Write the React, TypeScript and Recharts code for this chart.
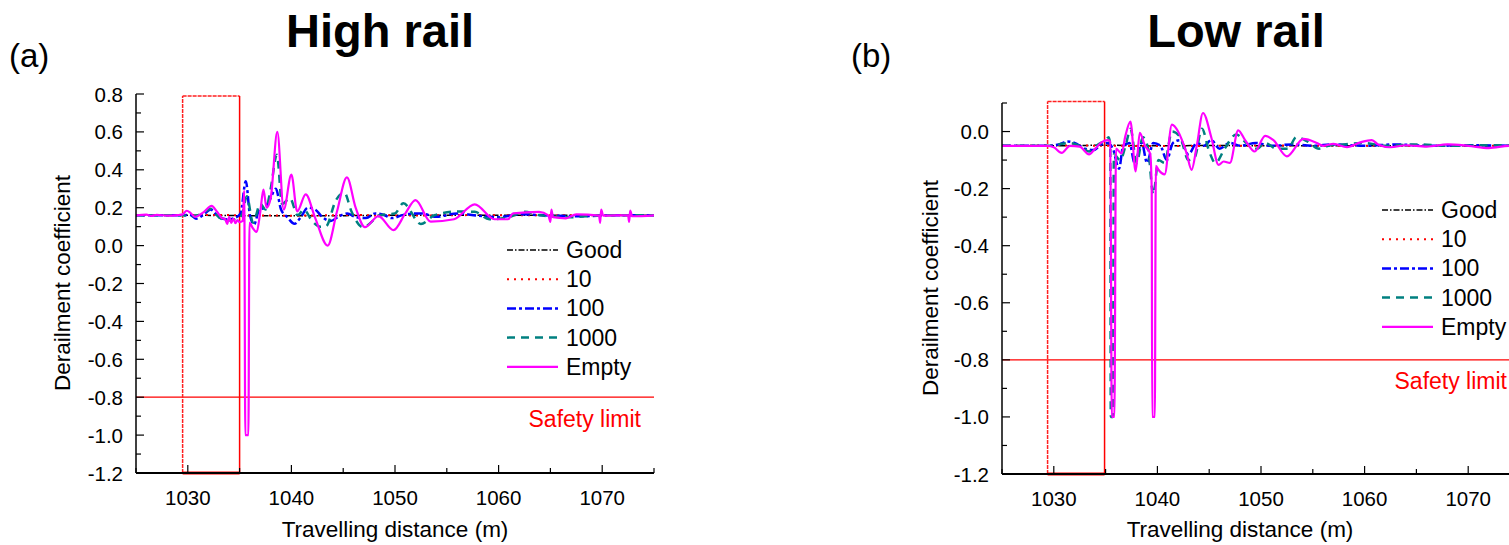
import React from 'react';
import { LineChart, Line, XAxis, YAxis, ReferenceLine, Legend } from 'recharts';

const FONT = '"Liberation Sans", Arial, Helvetica, sans-serif';

// ---------- tick values ----------
const xTicks = [1025, 1030, 1035, 1040, 1045, 1050, 1055, 1060, 1065, 1070, 1075];
const highYTicks = [-1.2, -1.1, -1.0, -0.9, -0.8, -0.7, -0.6, -0.5, -0.4, -0.3, -0.2, -0.1, 0.0, 0.1, 0.2, 0.3, 0.4, 0.5, 0.6, 0.7, 0.8];
const lowYTicks = [-1.2, -1.1, -1.0, -0.9, -0.8, -0.7, -0.6, -0.5, -0.4, -0.3, -0.2, -0.1, 0.0, 0.1];
const seriesNames = ['Good', '10', '100', '1000', 'Empty'];
const safetyLimit = -0.8;

// ---------- High rail series [distance (m), derailment coefficient] ----------
const hrGood: [number, number][] = [
  [1025, 0.16], [1030, 0.16], [1035, 0.158], [1040, 0.157], [1045, 0.158], [1050, 0.16],
  [1055, 0.16], [1060, 0.16], [1065, 0.16], [1070, 0.16], [1075, 0.16],
];
const hr10: [number, number][] = [
  [1025, 0.16], [1031, 0.162], [1036, 0.16], [1040, 0.158], [1046, 0.161], [1052, 0.159],
  [1058, 0.161], [1064, 0.16], [1070, 0.16], [1075, 0.16],
];
const hr100: [number, number][] = [
  [1025, 0.16], [1029.5, 0.16], [1030.2, 0.163], [1030.8, 0.142], [1031.5, 0.163], [1032.2, 0.19],
  [1033.0, 0.15], [1033.8, 0.138], [1034.6, 0.148], [1035.1, 0.17], [1035.6, 0.34], [1036.0, 0.16],
  [1036.4, 0.112], [1036.9, 0.19], [1037.4, 0.2], [1037.9, 0.24], [1038.5, 0.3], [1039.0, 0.19],
  [1039.6, 0.15], [1040.3, 0.115], [1040.9, 0.15], [1041.6, 0.2], [1042.3, 0.19], [1043.0, 0.15],
  [1043.8, 0.13], [1044.6, 0.155], [1045.4, 0.17], [1046.2, 0.15], [1047.2, 0.145], [1048.1, 0.17],
  [1049.0, 0.16], [1049.7, 0.145], [1051, 0.165], [1052.5, 0.17], [1054, 0.152], [1056, 0.17],
  [1058, 0.158], [1060, 0.15], [1062, 0.165], [1065, 0.158], [1068, 0.155], [1071, 0.16], [1075, 0.16],
];
const hr1000: [number, number][] = [
  [1025, 0.16], [1029.5, 0.16], [1030.5, 0.155], [1031.5, 0.172], [1032.2, 0.195], [1033.0, 0.15],
  [1033.8, 0.132], [1034.6, 0.14], [1035.2, 0.16], [1035.7, 0.26], [1036.3, 0.12], [1037.0, 0.22],
  [1037.5, 0.19], [1038.0, 0.3], [1038.6, 0.48], [1039.1, 0.22], [1039.86, 0.25], [1040.6, 0.16],
  [1041.2, 0.19], [1042.0, 0.13], [1042.8, 0.1], [1043.3, 0.1], [1044.3, 0.24], [1045.1, 0.28],
  [1045.8, 0.18], [1046.9, 0.097], [1048.6, 0.16], [1050.0, 0.17], [1050.8, 0.223], [1052.5, 0.114],
  [1053.8, 0.16], [1056.1, 0.18], [1057.7, 0.178], [1059.1, 0.139], [1061, 0.15], [1062.5, 0.178],
  [1064, 0.16], [1067, 0.15], [1070, 0.16], [1075, 0.16],
];
const hrEmpty: [number, number][] = [
  [1025, 0.16], [1026, 0.163], [1026.5, 0.157], [1027, 0.162], [1028, 0.158], [1029, 0.161], [1029.5, 0.165],
  [1029.9, 0.184], [1030.3, 0.17], [1030.7, 0.152], [1031.5, 0.175], [1032.3, 0.21], [1032.8, 0.18],
  [1033.3, 0.145], [1033.6, 0.14], [1033.8, 0.115], [1034.0, 0.15], [1034.2, 0.12], [1034.4, 0.142],
  [1034.6, 0.118], [1034.8, 0.135], [1035.0, 0.124], [1035.3, 0.13], [1035.45, 0.29], [1035.55, -1.0],
  [1035.85, -1.0], [1035.95, 0.12], [1036.3, 0.09], [1036.65, 0.072], [1037.0, 0.18], [1037.3, 0.295],
  [1037.6, 0.2], [1038.0, 0.25], [1038.64, 0.6], [1039.26, 0.19], [1040.0, 0.375], [1040.56, 0.18],
  [1041.38, 0.27], [1042.3, 0.145], [1043.5, 0.0], [1044.4, 0.18], [1045.36, 0.36], [1046.2, 0.2],
  [1047.1, 0.097], [1048.4, 0.156], [1049.86, 0.082], [1051.0, 0.17], [1051.98, 0.24], [1053.45, 0.126],
  [1055.7, 0.139], [1057.7, 0.218], [1059.6, 0.139], [1060.9, 0.139], [1061.4, 0.17], [1063.9, 0.178],
  [1064.8, 0.16], [1065.0, 0.125], [1065.1, 0.19], [1065.25, 0.15], [1066.5, 0.144], [1067.5, 0.165],
  [1069.7, 0.158], [1069.8, 0.12], [1069.9, 0.19], [1070.1, 0.158], [1072.5, 0.16], [1072.6, 0.125],
  [1072.7, 0.185], [1072.9, 0.155], [1075, 0.16],
];

// ---------- Low rail series ----------
const lrGood: [number, number][] = [
  [1025, -0.05], [1030, -0.05], [1035, -0.048], [1040, -0.05], [1045, -0.049], [1050, -0.05],
  [1055, -0.05], [1060, -0.05], [1065, -0.05], [1070, -0.05], [1075, -0.05],
];
const lr10: [number, number][] = [
  [1025, -0.05], [1031, -0.049], [1036, -0.05], [1041, -0.051], [1046, -0.05], [1052, -0.049],
  [1058, -0.05], [1064, -0.05], [1070, -0.05], [1075, -0.05],
];
const lr100: [number, number][] = [
  [1025, -0.05], [1029.5, -0.05], [1030.5, -0.045], [1031.3, -0.035], [1032.0, -0.04], [1033.0, -0.06],
  [1033.8, -0.065], [1034.6, -0.045], [1035.2, -0.04], [1035.7, -0.06], [1036.3, -0.13], [1036.7, -0.05],
  [1037.3, -0.04], [1037.8, -0.11], [1038.5, -0.04], [1039.0, -0.11], [1039.6, -0.04], [1040.3, -0.05],
  [1040.9, -0.1], [1041.5, -0.04], [1042.2, -0.03], [1043.0, -0.08], [1043.8, -0.04], [1044.5, -0.05],
  [1045.2, -0.03], [1046.0, -0.06], [1047.0, -0.04], [1048.0, -0.05], [1049.5, -0.04], [1051, -0.05],
  [1053, -0.045], [1055, -0.05], [1057, -0.045], [1060, -0.05], [1063, -0.045], [1066, -0.05],
  [1070, -0.048], [1075, -0.05],
];
const lr1000: [number, number][] = [
  [1025, -0.05], [1029.5, -0.05], [1030.5, -0.045], [1031.5, -0.04], [1032.5, -0.05], [1033.4, -0.07],
  [1034.3, -0.045], [1035.0, -0.03], [1035.3, -0.02], [1035.45, -0.05], [1035.5, -1.0], [1035.7, -1.0],
  [1035.8, -0.08], [1036.4, -0.1], [1037.0, -0.04], [1037.4, 0.01], [1038.0, -0.11], [1038.6, -0.02],
  [1039.1, -0.06], [1039.6, -0.22], [1040.1, -0.1], [1040.7, -0.11], [1041.4, 0.0], [1042.2, -0.02],
  [1043.0, -0.1], [1043.6, -0.09], [1044.3, 0.01], [1045.0, -0.07], [1045.6, -0.11], [1046.5, -0.06],
  [1047.6, -0.01], [1048.6, -0.04], [1049.6, -0.06], [1050.4, -0.04], [1051.5, -0.06], [1052.6, -0.06],
  [1053.4, -0.02], [1054.5, -0.035], [1055.6, -0.06], [1056.5, -0.05], [1058, -0.045], [1060, -0.04],
  [1062, -0.05], [1065, -0.045], [1068, -0.05], [1072, -0.048], [1075, -0.05],
];
const lrEmpty: [number, number][] = [
  [1025, -0.05], [1029.4, -0.05], [1030.0, -0.055], [1030.76, -0.075], [1031.56, -0.05], [1032.5, -0.053],
  [1033.4, -0.08], [1034.0, -0.06], [1034.6, -0.038], [1035.2, -0.03], [1035.45, -0.035], [1035.6, -1.0],
  [1035.85, -1.0], [1036.0, -0.06], [1036.55, -0.077], [1036.9, -0.017], [1037.4, 0.035], [1037.9, -0.14],
  [1038.3, -0.005], [1038.8, -0.05], [1039.3, -0.077], [1039.45, -0.2], [1039.5, -1.0], [1039.75, -1.0],
  [1039.85, -0.12], [1040.1, -0.134], [1040.7, -0.15], [1041.4, 0.024], [1042.0, 0.0], [1042.8, -0.074],
  [1043.3, -0.134], [1043.8, -0.05], [1044.4, 0.065], [1045.2, -0.02], [1045.9, -0.117], [1046.4, -0.105],
  [1047.0, -0.11], [1047.8, 0.004], [1048.45, -0.029], [1049.4, -0.07], [1050.4, -0.015], [1051.2, -0.03],
  [1052.5, -0.087], [1054.1, -0.026], [1055.4, -0.04], [1056.0, -0.05], [1057, -0.043], [1058.3, -0.055],
  [1059.6, -0.038], [1060.7, -0.03], [1061.3, -0.045], [1062.5, -0.055], [1064, -0.048], [1066, -0.053],
  [1068, -0.045], [1070, -0.05], [1072, -0.058], [1074, -0.05], [1075, -0.05],
];

// ---------- styles ----------
const STYLES = [
  { color: '#000000', dash: '6 2 1.5 2', width: 1.5 },
  { color: '#ff0000', dash: '2 5', width: 2 },
  { color: '#0000ff', dash: '9 3 3 3', width: 2.5 },
  { color: '#008080', dash: '8 6', width: 2.5 },
  { color: '#ff00ff', dash: undefined as string | undefined, width: 2.2 },
];

const toPts = (arr: [number, number][]) => arr.map(([x, y]) => ({ x, y }));

const makeYTick = (axisX: number) => (props: any) => {
  const { y, payload } = props;
  const v = payload.value as number;
  const major = Math.round(v * 10) % 2 === 0;
  return (
    <g>
      <line x1={axisX} x2={axisX + (major ? 8 : 5)} y1={y} y2={y} stroke="#000" strokeWidth={1.2} />
      {major && (
        <text x={axisX - 13} y={y} textAnchor="end" dominantBaseline="central" fontSize={20.5} fontFamily={FONT} fill="#000">
          {v.toFixed(1)}
        </text>
      )}
    </g>
  );
};

const makeXTick = (axisY: number) => (props: any) => {
  const { x, payload } = props;
  const v = payload.value as number;
  const major = v % 10 === 0;
  const labeled = major && v > 1025 && v < 1075;
  return (
    <g>
      <line x1={x} x2={x} y1={axisY} y2={axisY - (major ? 8 : 5)} stroke="#000" strokeWidth={1.2} />
      {labeled && (
        <text x={x} y={axisY + 24} textAnchor="middle" dominantBaseline="central" fontSize={20.5} fontFamily={FONT} fill="#000">
          {v}
        </text>
      )}
    </g>
  );
};

const LegendBox = () => (
  <svg width={170} height={150} style={{ overflow: 'visible', display: 'block' }}>
    {seriesNames.map((name, i) => {
      const s = STYLES[i];
      const y = 14 + i * 29.2;
      return (
        <g key={name}>
          <line x1={2} x2={53} y1={y} y2={y} stroke={s.color} strokeWidth={s.width} strokeDasharray={s.dash} />
          <text x={61} y={y} dominantBaseline="central" fontSize={23} fontFamily={FONT} fill="#000">{name}</text>
        </g>
      );
    })}
  </svg>
);

type PanelProps = {
  series: [number, number][][];
  yTicks: number[];
  yDomain: [number, number];
  width: number;
  margin: { top: number; right: number; bottom: number; left: number };
  axisX: number;
  axisY: number;
  box: { x1: number; x2: number; y1: number; y2: number };
  legendPos: { left: number; top: number };
};

const Panel = ({ series, yTicks, yDomain, width, margin, axisX, axisY, box, legendPos }: PanelProps) => (
  <LineChart width={width} height={545} margin={margin}>
    <XAxis
      type="number"
      dataKey="x"
      domain={[1025, 1075]}
      ticks={xTicks}
      interval={0}
      allowDataOverflow
      height={30}
      axisLine={{ stroke: '#000', strokeWidth: 2 }}
      tickLine={false}
      tick={makeXTick(axisY)}
    />
    <YAxis
      type="number"
      domain={yDomain}
      ticks={yTicks}
      interval={0}
      allowDataOverflow
      width={50}
      axisLine={{ stroke: '#000', strokeWidth: 1.5 }}
      tickLine={false}
      tick={makeYTick(axisX)}
    />
    <ReferenceLine
      y={safetyLimit}
      stroke="#ff0000"
      strokeWidth={1.3}
      label={{ value: 'Safety limit', position: 'insideTopRight', offset: 13, fill: '#ff0000', fontSize: 23, fontFamily: FONT }}
    />
    {/* highlighted region box */}
    <ReferenceLine
      segment={[{ x: box.x1, y: box.y1 }, { x: box.x1, y: box.y2 }]}
      stroke="#ff2020"
      strokeWidth={1.5}
      strokeDasharray="4 1"
      ifOverflow="visible"
    />
    <ReferenceLine
      segment={[{ x: box.x1, y: box.y2 }, { x: box.x2, y: box.y2 }]}
      stroke="#ff2020"
      strokeWidth={1.5}
      strokeDasharray="4 1"
      ifOverflow="visible"
    />
    <ReferenceLine
      segment={[{ x: box.x2, y: box.y1 }, { x: box.x2, y: box.y2 }]}
      stroke="#ff0000"
      strokeWidth={1.5}
      ifOverflow="visible"
    />
    <ReferenceLine
      segment={[{ x: box.x1, y: box.y1 }, { x: box.x2, y: box.y1 }]}
      stroke="#ff0000"
      strokeWidth={3}
      ifOverflow="visible"
    />
    {series.map((s, i) => (
      <Line
        key={seriesNames[i]}
        name={seriesNames[i]}
        data={toPts(s)}
        dataKey="y"
        type="monotone"
        stroke={STYLES[i].color}
        strokeWidth={STYLES[i].width}
        strokeDasharray={STYLES[i].dash}
        dot={false}
        activeDot={false}
        isAnimationActive={false}
      />
    ))}
    <Legend
      layout="vertical"
      align="center"
      verticalAlign="middle"
      content={() => <LegendBox />}
      wrapperStyle={{ left: legendPos.left, top: legendPos.top, width: 170, height: 150 }}
    />
  </LineChart>
);

export default function App() {
  return (
    <div style={{ position: 'fixed', left: 0, top: 0, width: 1509, height: 545, overflow: 'hidden', background: '#fff', fontFamily: FONT }}>
      <div style={{ position: 'absolute', left: 0, top: 0 }}>
        <Panel
          series={[hrGood, hr10, hr100, hr1000, hrEmpty]}
          yTicks={highYTicks}
          yDomain={[-1.2, 0.8]}
          width={700}
          margin={{ top: 94, right: 46, bottom: 42, left: 86 }}
          axisX={136}
          axisY={473}
          box={{ x1: 1029.5, x2: 1035, y1: -1.2, y2: 0.79 }}
          legendPos={{ left: 505, top: 236 }}
        />
      </div>
      <div style={{ position: 'absolute', left: 850, top: 0 }}>
        <Panel
          series={[lrGood, lr10, lr100, lr1000, lrEmpty]}
          yTicks={lowYTicks}
          yDomain={[-1.2, 0.1]}
          width={710}
          margin={{ top: 103, right: 40, bottom: 41, left: 102 }}
          axisX={152}
          axisY={474}
          box={{ x1: 1029.4, x2: 1034.9, y1: -1.2, y2: 0.105 }}
          legendPos={{ left: 530, top: 196 }}
        />
      </div>
      <svg width={1509} height={545} style={{ position: 'absolute', left: 0, top: 0, pointerEvents: 'none' }}>
        <text x={380} y={47} textAnchor="middle" fontSize={47} fontWeight="bold" fontFamily={FONT} fill="#000">High rail</text>
        <text x={1236} y={47} textAnchor="middle" fontSize={47} fontWeight="bold" fontFamily={FONT} fill="#000">Low rail</text>
        <text x={9} y={67} fontSize={33} fontFamily={FONT} fill="#000">(a)</text>
        <text x={851} y={67} fontSize={33} fontFamily={FONT} fill="#000">(b)</text>
        <text x={62} y={283} textAnchor="middle" dominantBaseline="central" transform="rotate(-90 62 283)" fontSize={22.5} fontFamily={FONT} fill="#000">Derailment coefficient</text>
        <text x={930} y={288} textAnchor="middle" dominantBaseline="central" transform="rotate(-90 930 288)" fontSize={22.5} fontFamily={FONT} fill="#000">Derailment coefficient</text>
        <text x={395} y={529} textAnchor="middle" dominantBaseline="central" fontSize={22.5} fontFamily={FONT} fill="#000">Travelling distance (m)</text>
        <text x={1240} y={529} textAnchor="middle" dominantBaseline="central" fontSize={22.5} fontFamily={FONT} fill="#000">Travelling distance (m)</text>
      </svg>
    </div>
  );
}
